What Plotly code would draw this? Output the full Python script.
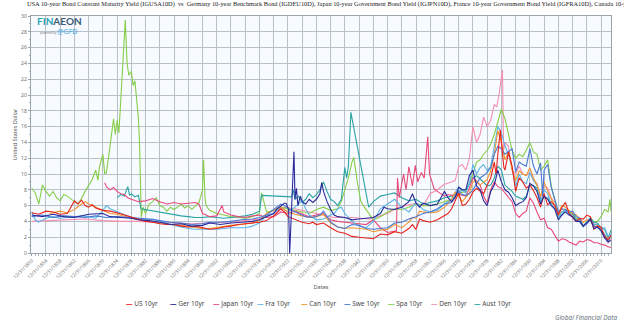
import plotly.graph_objects as go

# ---------------- data ----------------
tick_years = list(range(1850, 2011, 4))
tick_labels = [f"12/31/{y}" for y in tick_years]

us_years = [1850, 1852, 1854, 1856, 1858, 1860, 1861, 1862, 1863, 1864, 1865, 1866, 1867, 1868, 1870, 1872, 1874, 1876, 1878, 1880,
            1882, 1884, 1886, 1888, 1890, 1892, 1894, 1896, 1898, 1900, 1902, 1904, 1906, 1908, 1910, 1912, 1914, 1916, 1918, 1920,
            1921, 1922, 1924, 1926, 1928, 1929, 1930, 1932, 1934, 1936, 1938, 1940, 1942, 1944, 1946, 1948, 1950, 1952, 1954, 1956,
            1957, 1958, 1959, 1960, 1962, 1964, 1966, 1967, 1968, 1969, 1970, 1971, 1972, 1973, 1974, 1975, 1976, 1977, 1978, 1979,
            1980, 1980.5, 1981, 1981.7, 1982, 1982.7, 1983, 1984, 1985, 1986, 1987, 1988, 1989, 1990, 1991, 1992, 1993, 1994, 1995,
            1996, 1997, 1998, 1999, 2000, 2001, 2002, 2003, 2004, 2005, 2006, 2007, 2008, 2009, 2010, 2011, 2012, 2012.8]
us_yield = [5.1, 4.9, 5.3, 5.2, 4.9, 5.0, 5.8, 6.6, 6.2, 6.7, 6.0, 5.8, 6.1, 5.7, 5.4, 5.3, 5.1, 4.8, 4.6, 4.2,
            4.0, 3.9, 3.7, 3.6, 3.6, 3.4, 3.3, 3.4, 3.2, 3.0, 3.1, 3.3, 3.4, 3.6, 3.7, 3.8, 3.9, 4.1, 4.7, 5.6,
            5.2, 4.6, 4.3, 3.9, 3.7, 3.9, 3.6, 3.8, 3.2, 2.7, 2.5, 2.1, 2.0, 1.9, 1.8, 2.4, 2.3, 2.7, 2.5, 3.1,
            3.6, 3.0, 4.3, 4.1, 3.9, 4.2, 4.8, 5.0, 5.6, 6.7, 7.6, 6.0, 6.2, 6.8, 7.7, 8.2, 7.8, 7.5, 8.6, 9.5,
            11.5, 10.0, 12.5, 15.6, 14.0, 10.8, 10.5, 12.8, 11.0, 7.8, 9.5, 9.0, 8.2, 8.6, 7.9, 7.0, 5.8, 7.5, 6.1,
            6.5, 6.0, 4.8, 5.8, 6.4, 5.0, 4.5, 4.0, 4.4, 4.3, 4.8, 4.6, 3.0, 3.4, 3.3, 2.0, 1.7, 2.2]

ger_years = [1850, 1853, 1856, 1859, 1862, 1866, 1870, 1872, 1875, 1878, 1880, 1883, 1886, 1889, 1892, 1895, 1898, 1900, 1903, 1906,
             1909, 1912, 1914, 1916, 1918, 1919, 1920, 1921, 1921.5, 1922.2, 1922.5, 1922.8, 1923.2, 1923.7, 1924, 1924.4, 1924.8,
             1925.5, 1926, 1927, 1928, 1929, 1930, 1931, 1931.5, 1932, 1933, 1934, 1935, 1936, 1938, 1940, 1942, 1944, 1946, 1948,
             1949, 1950, 1952, 1954, 1956, 1957, 1958, 1959, 1960, 1962, 1964, 1965, 1966, 1967, 1968, 1969, 1970, 1971, 1972, 1973,
             1974, 1975, 1976, 1977, 1978, 1979, 1980, 1981, 1982, 1983, 1984, 1985, 1986, 1987, 1988, 1989, 1990, 1991, 1992, 1993,
             1994, 1995, 1996, 1997, 1998, 1999, 2000, 2001, 2002, 2003, 2004, 2005, 2006, 2007, 2008, 2009, 2010, 2011, 2012, 2012.8]
ger_yield = [4.8, 4.6, 4.9, 4.6, 4.5, 4.9, 5.0, 4.6, 4.5, 4.4, 4.2, 4.1, 3.9, 3.6, 3.7, 3.4, 3.5, 3.8, 3.6, 3.8,
             3.9, 4.0, 4.2, 4.6, 5.0, 5.6, 6.0, 6.3, 6.3, 5.5, 0.0, 3.0, 6.0, 12.8, 6.8, 8.2, 6.0,
             7.2, 6.5, 6.2, 6.8, 6.4, 6.8, 7.5, 8.9, 7.8, 6.5, 5.5, 4.8, 4.6, 4.5, 4.2, 4.3, 4.4, 4.5, 5.0,
             5.8, 5.6, 5.5, 5.8, 6.5, 7.5, 6.3, 5.8, 6.3, 6.0, 6.2, 7.0, 7.8, 7.0, 6.5, 7.0, 8.3, 8.0, 8.0, 9.8,
             10.5, 8.5, 8.0, 6.6, 6.0, 7.8, 8.6, 10.5, 9.0, 8.0, 7.7, 7.0, 6.0, 6.3, 6.5, 7.0, 8.8, 8.5, 7.8, 6.2,
             7.2, 6.8, 6.0, 5.6, 4.2, 4.8, 5.2, 4.8, 4.6, 4.0, 4.0, 3.4, 3.9, 4.3, 3.1, 3.3, 2.8, 1.9, 1.4, 1.6]

jpn_years = [1870.5, 1871, 1872, 1873, 1874, 1875, 1876, 1877, 1878, 1880, 1882, 1884, 1886, 1888, 1890, 1892, 1894, 1896, 1897, 1898,
             1899, 1900, 1902, 1903.5, 1904, 1906, 1908, 1910, 1912, 1914, 1916, 1918, 1920, 1922, 1924, 1926, 1928, 1930, 1932, 1934,
             1936, 1938, 1940, 1942, 1944, 1946, 1948, 1950, 1952.5, 1952.8, 1953.3, 1954.5, 1955.2, 1956, 1957, 1957.8, 1958.5, 1959.5,
             1960.3, 1961.3, 1961.8, 1962.5, 1963, 1964, 1965, 1966, 1967, 1968, 1970, 1972, 1973, 1974, 1975, 1976, 1977, 1978,
             1979, 1980, 1981, 1982, 1983, 1984, 1985, 1986, 1987, 1988, 1989, 1990, 1991, 1992, 1993, 1994, 1995, 1996, 1997,
             1998, 1999, 2000, 2001, 2002, 2003, 2004, 2005, 2006, 2007, 2008, 2009, 2010, 2011, 2012, 2012.8]
jpn_yield = [8.9, 8.4, 8.0, 8.3, 7.8, 7.5, 7.4, 7.0, 6.8, 6.5, 6.6, 6.9, 6.5, 6.2, 6.4, 6.2, 6.3, 6.4, 6.2, 5.0,
             4.8, 4.6, 4.7, 6.0, 5.2, 4.8, 4.6, 4.5, 4.7, 4.8, 4.5, 4.6, 5.2, 5.0, 5.3, 5.0, 4.6, 4.8, 5.0, 4.2,
             4.0, 3.9, 3.8, 3.7, 3.6, 4.2, 3.2, 2.6, 2.8, 9.5, 7.0, 10.0, 8.0, 10.9, 8.5, 11.1, 9.0, 10.2,
             9.5, 14.7, 10.0, 9.0, 8.2, 7.8, 7.5, 7.2, 7.4, 7.3, 7.4, 7.2, 8.2, 9.5, 9.0, 8.6, 7.2, 6.3,
             8.0, 9.0, 8.4, 8.2, 7.6, 7.0, 6.5, 5.0, 4.5, 5.0, 5.3, 7.0, 6.3, 5.2, 4.2, 4.4, 3.2, 3.0, 2.3,
             1.5, 1.8, 1.7, 1.4, 1.2, 1.0, 1.5, 1.4, 1.7, 1.6, 1.3, 1.3, 1.1, 1.0, 0.8, 0.7]

fra_years = [1850, 1851, 1852, 1854, 1856, 1858, 1860, 1862, 1864, 1866, 1868, 1870, 1871, 1872, 1874, 1876, 1878, 1880, 1882, 1884,
             1886, 1888, 1890, 1892, 1894, 1896, 1898, 1900, 1902, 1904, 1906, 1908, 1910, 1912, 1914, 1916, 1918, 1920, 1922, 1924,
             1926, 1927, 1928, 1930, 1932, 1934, 1935, 1936, 1937, 1938, 1940, 1942, 1944, 1946, 1948, 1950, 1952, 1954, 1956, 1958,
             1960, 1962, 1964, 1966, 1968, 1970, 1971, 1972, 1973, 1974, 1975, 1976, 1977, 1978, 1979, 1980, 1981, 1982, 1983, 1984,
             1985, 1986, 1987, 1988, 1989, 1990, 1991, 1992, 1993, 1994, 1995, 1996, 1997, 1998, 1999, 2000, 2001, 2002, 2003, 2004,
             2005, 2006, 2007, 2008, 2009, 2010, 2011, 2012, 2012.8]
fra_yield = [5.2, 4.2, 3.9, 4.4, 4.6, 4.4, 4.5, 4.6, 4.7, 4.6, 4.4, 5.4, 6.0, 5.6, 5.2, 4.8, 4.5, 4.2, 4.2, 4.3,
             4.0, 3.8, 3.5, 3.3, 3.1, 3.0, 3.0, 3.0, 3.0, 3.1, 3.2, 3.2, 3.2, 3.4, 3.8, 4.8, 5.0, 5.8, 5.2, 5.8,
             6.6, 5.6, 4.8, 4.2, 4.3, 4.8, 5.0, 5.6, 5.8, 5.0, 4.0, 3.4, 3.2, 4.0, 5.6, 6.2, 6.8, 5.8, 5.2, 6.4,
             5.5, 5.2, 5.4, 6.2, 6.8, 8.4, 8.0, 7.6, 8.8, 11.2, 10.0, 10.8, 11.2, 10.4, 11.0, 13.5, 16.0, 15.2, 13.6, 12.4,
             10.8, 8.4, 10.0, 9.0, 8.8, 10.2, 9.2, 8.6, 6.4, 8.0, 7.5, 6.2, 5.5, 4.4, 5.2, 5.4, 5.0, 4.6, 4.2, 4.0,
             3.4, 3.9, 4.4, 3.6, 3.6, 3.2, 3.2, 2.1, 2.4]

can_years = [1855, 1858, 1860, 1862, 1864, 1865, 1866, 1868, 1870, 1872, 1874, 1876, 1878, 1880, 1883, 1886, 1889, 1892, 1895, 1898,
             1900, 1903, 1906, 1909, 1912, 1914, 1916, 1918, 1920, 1922, 1924, 1926, 1928, 1930, 1932, 1934, 1936, 1938, 1940, 1942,
             1944, 1946, 1948, 1950, 1952, 1954, 1956, 1957, 1958, 1959, 1960, 1962, 1964, 1966, 1968, 1969, 1970, 1971, 1972, 1973,
             1974, 1975, 1976, 1977, 1978, 1979, 1980, 1981, 1982, 1983, 1984, 1985, 1986, 1987, 1988, 1989, 1990, 1991, 1992, 1993,
             1994, 1995, 1996, 1997, 1998, 1999, 2000, 2001, 2002, 2003, 2004, 2005, 2006, 2007, 2008, 2009, 2010, 2011, 2012, 2012.8]
can_yield = [5.0, 5.3, 5.1, 5.5, 6.2, 6.5, 6.2, 5.8, 5.3, 5.0, 4.9, 4.6, 4.4, 4.2, 4.0, 3.8, 3.6, 3.5, 3.3, 3.1,
             3.1, 3.3, 3.5, 3.6, 3.8, 4.1, 5.0, 5.4, 5.8, 5.2, 4.9, 4.7, 4.5, 4.6, 4.9, 3.8, 3.3, 3.1, 3.2, 3.1,
             3.0, 2.7, 2.9, 3.0, 3.6, 3.2, 3.9, 4.5, 4.4, 5.3, 5.2, 5.1, 5.2, 5.8, 6.8, 7.7, 7.2, 6.5, 7.1, 7.6,
             9.0, 9.2, 8.6, 8.9, 9.3, 10.4, 12.5, 15.5, 14.0, 11.8, 12.8, 10.5, 9.2, 10.4, 10.0, 9.8, 10.8, 9.5, 8.6, 7.2,
             9.0, 7.8, 6.8, 5.8, 5.0, 6.0, 5.8, 5.4, 5.0, 4.8, 4.4, 3.9, 4.2, 4.1, 3.3, 3.5, 3.1, 2.3, 1.8, 2.2]

swe_years = [1850, 1853, 1856, 1859, 1862, 1865, 1868, 1871, 1874, 1877, 1880, 1883, 1886, 1889, 1892, 1895, 1898, 1900, 1903, 1906,
             1909, 1912, 1914, 1916, 1918, 1920, 1921, 1923, 1925, 1927, 1929, 1931, 1932, 1934, 1936, 1938, 1940, 1942, 1944, 1946,
             1948, 1950, 1952, 1954, 1956, 1958, 1960, 1962, 1964, 1966, 1968, 1969, 1970, 1971, 1972, 1973, 1974, 1975, 1976, 1977,
             1978, 1979, 1980, 1981, 1982, 1983, 1984, 1985, 1986, 1987, 1988, 1989, 1990, 1991, 1992, 1993, 1993.6, 1994, 1995, 1996,
             1997, 1998, 1999, 2000, 2001, 2002, 2003, 2004, 2005, 2006, 2007, 2008, 2009, 2010, 2011, 2012, 2012.8]
swe_yield = [4.6, 4.8, 4.5, 4.7, 4.6, 4.5, 4.7, 4.5, 4.6, 4.5, 4.4, 4.3, 4.1, 3.9, 3.8, 3.6, 3.7, 3.9, 3.9, 4.0,
             4.2, 4.3, 4.5, 4.8, 5.5, 6.2, 6.0, 5.4, 5.0, 4.6, 4.5, 4.8, 5.3, 3.9, 3.3, 3.1, 3.6, 3.5, 3.1, 3.0,
             3.1, 3.2, 3.8, 3.9, 4.3, 4.6, 5.0, 5.2, 5.6, 6.2, 6.4, 7.2, 7.8, 7.4, 7.3, 7.5, 8.0, 8.8, 9.5, 9.8,
             10.2, 10.8, 12.5, 13.5, 13.2, 12.5, 12.8, 13.2, 10.3, 11.5, 11.2, 11.0, 13.2, 11.0, 10.0, 11.4, 7.2, 10.5, 11.2, 8.3,
             6.8, 5.2, 5.6, 5.5, 5.2, 5.3, 4.6, 4.4, 3.4, 3.7, 4.2, 3.5, 3.2, 3.0, 2.3, 1.5, 2.2]

spa_years = [1850, 1851, 1852, 1853, 1854, 1855, 1856, 1857, 1858, 1859, 1860, 1861, 1862, 1863, 1864, 1865, 1866, 1867, 1868, 1868.6,
             1869, 1870, 1870.5, 1871, 1872, 1873, 1873.5, 1874, 1874.5, 1875, 1875.8, 1876.3, 1876.8, 1877.3, 1878, 1878.5, 1879,
             1879.5, 1880, 1880.3, 1880.8, 1881.3, 1882, 1883, 1884, 1885, 1886, 1887, 1888, 1889, 1890, 1891, 1892, 1893, 1894,
             1895, 1896, 1897, 1898, 1898.3, 1898.7, 1899, 1900, 1902, 1904, 1906, 1908, 1910, 1912, 1914, 1914.6, 1916, 1918, 1920,
             1922, 1924, 1926, 1928, 1930, 1932, 1934, 1936, 1937, 1938, 1939, 1940, 1940.5, 1941.5, 1942.5, 1943.5, 1946, 1948,
             1950, 1952, 1954, 1956, 1958, 1960, 1962, 1964, 1966, 1968, 1970, 1972, 1974, 1975, 1976, 1977, 1978, 1979, 1980,
             1981, 1982, 1983, 1984, 1985, 1986, 1987, 1988, 1989, 1990, 1991, 1992, 1993, 1994, 1995, 1996, 1997, 1998, 1999,
             2000, 2001, 2002, 2003, 2004, 2005, 2006, 2007, 2008, 2009, 2010, 2011, 2012, 2012.5, 2012.8]
spa_yield = [8.2, 7.6, 6.2, 8.6, 7.8, 7.2, 7.8, 7.0, 6.6, 7.4, 7.2, 6.8, 6.5, 6.2, 6.9, 7.8, 8.6, 9.3, 10.5, 9.2,
             10.8, 12.5, 10.0, 10.2, 13.5, 17.0, 15.0, 16.8, 15.2, 19.5, 25.0, 29.5, 24.0, 22.5, 23.0, 21.2, 21.8,
             19.8, 17.0, 14.0, 4.5, 5.8, 5.0, 6.2, 6.5, 7.0, 6.0, 5.8, 5.3, 5.8, 5.5, 5.8, 6.2, 5.7, 6.0,
             5.5, 5.9, 6.4, 8.0, 11.8, 7.0, 6.0, 5.4, 5.0, 4.8, 4.6, 4.5, 4.4, 4.6, 5.0, 7.6, 5.2, 5.4, 5.8,
             5.6, 5.4, 5.2, 5.0, 5.5, 5.8, 5.4, 5.6, 6.5, 8.0, 9.5, 11.5, 12.1, 9.0, 6.5, 5.8, 4.2, 4.6,
             5.2, 5.6, 5.5, 5.8, 6.2, 6.0, 6.0, 6.2, 6.5, 6.8, 7.5, 7.8, 10.0, 11.5, 11.8, 12.5, 13.0, 13.8, 15.0,
             16.5, 18.2, 17.0, 15.0, 13.0, 12.0, 12.5, 12.2, 13.0, 14.0, 12.8, 12.5, 10.5, 11.0, 11.8, 8.5, 6.5, 4.8, 5.2,
             5.5, 5.2, 5.0, 4.4, 4.2, 3.4, 3.9, 4.5, 3.9, 4.0, 4.6, 5.5, 5.2, 6.8, 5.3]

den_years = [1850, 1855, 1860, 1865, 1870, 1875, 1880, 1885, 1890, 1895, 1900, 1905, 1910, 1914, 1917, 1920, 1921, 1925, 1930, 1935,
             1940, 1945, 1950, 1953, 1955, 1958, 1960, 1962, 1964, 1966, 1968, 1969, 1970, 1971, 1972, 1973, 1974, 1975, 1976, 1977,
             1978, 1979, 1980, 1980.7, 1981.3, 1982.3, 1982.6, 1983, 1984, 1985, 1986, 1987, 1988, 1989, 1990, 1991, 1992, 1993,
             1994, 1995, 1996, 1997, 1998, 1999, 2000, 2001, 2002, 2003, 2004, 2005, 2006, 2007, 2008, 2009, 2010, 2011, 2012, 2012.8]
den_yield = [4.0, 4.1, 4.2, 4.3, 4.1, 4.0, 4.0, 3.9, 3.8, 3.7, 3.8, 3.9, 4.1, 4.3, 4.8, 5.5, 5.8, 5.5, 5.0, 4.5,
             4.5, 4.3, 5.0, 5.8, 6.0, 6.3, 6.0, 7.5, 8.0, 8.7, 9.0, 9.2, 10.9, 11.2, 10.5, 12.0, 16.0, 14.0, 15.0, 17.2,
             16.0, 16.8, 18.8, 18.5, 20.0, 23.2, 13.0, 14.0, 13.5, 10.5, 10.0, 11.0, 10.0, 9.8, 10.2, 9.2, 8.8, 7.0,
             8.5, 8.2, 7.0, 6.3, 5.0, 5.2, 5.5, 5.0, 4.8, 4.3, 4.2, 3.4, 3.8, 4.3, 3.7, 3.6, 2.9, 2.0, 1.3, 1.8]

aut_years = [1874, 1875, 1876, 1877, 1877.5, 1878, 1879, 1880, 1880.7, 1882, 1884, 1886, 1888, 1890, 1892, 1894, 1896, 1898, 1900, 1902,
             1904, 1906, 1908, 1910, 1912, 1914, 1914.6, 1923, 1923.5, 1924, 1925, 1926, 1927, 1928, 1929, 1930, 1931, 1932, 1933,
             1934, 1935, 1936, 1937, 1937.5, 1938, 1938.5, 1939, 1939.7, 1944.7, 1946, 1948, 1950, 1952, 1954, 1956, 1958, 1960,
             1962, 1964, 1966, 1968, 1970, 1972, 1974, 1975, 1976, 1977, 1978, 1979, 1980, 1981, 1982, 1983, 1984, 1985, 1986, 1987,
             1988, 1989, 1990, 1991, 1992, 1993, 1994, 1995, 1996, 1997, 1998, 1999, 2000, 2001, 2002, 2003, 2004, 2005, 2006, 2007,
             2008, 2009, 2010, 2011, 2012, 2012.8]
aut_yield = [7.0, 7.4, 7.2, 8.4, 7.3, 7.5, 7.1, 7.3, 5.6, 5.5, 5.3, 5.1, 5.0, 4.8, 4.7, 4.6, 4.5, 4.5, 4.6, 4.5,
             4.4, 4.5, 4.6, 4.7, 4.9, 5.3, 7.3, 7.1, 8.0, 6.8, 7.2, 6.4, 6.8, 7.5, 7.0, 7.4, 8.0, 9.0, 7.8,
             6.8, 6.5, 6.0, 6.8, 9.0, 10.8, 9.5, 11.0, 17.8, 5.8, 6.5, 7.2, 7.4, 7.6, 7.0, 6.6, 6.8, 6.2,
             6.4, 6.6, 7.0, 7.2, 7.8, 8.0, 9.5, 9.8, 9.4, 9.0, 8.5, 8.6, 9.5, 11.0, 10.5, 8.6, 8.2, 7.8, 7.2, 7.0,
             6.8, 7.2, 8.6, 8.5, 8.2, 6.8, 7.0, 7.0, 6.2, 5.6, 4.6, 4.8, 5.5, 5.0, 4.9, 4.2, 4.0, 3.3, 3.8, 4.4,
             3.9, 3.8, 3.2, 3.0, 1.9, 2.9]

series_names = ["US 10yr", "Ger 10yr", "Japan 10yr", "Fra 10yr", "Can 10yr", "Swe 10yr", "Spa 10yr", "Den 10yr", "Aust 10yr"]
series_x = [us_years, ger_years, jpn_years, fra_years, can_years, swe_years, spa_years, den_years, aut_years]
series_y = [us_yield, ger_yield, jpn_yield, fra_yield, can_yield, swe_yield, spa_yield, den_yield, aut_yield]
series_colors = ["#e8231e", "#2a2a9a", "#ea4a78", "#5bb4e6", "#f0952e", "#4a78d2", "#86cd48", "#f58fb0", "#2aa3a3"]

# ---------------- figure ----------------
fig = go.Figure()
draw_order = [7, 6, 8, 2, 3, 4, 5, 0, 1]
for i in draw_order:
    fig.add_trace(go.Scatter(x=series_x[i], y=series_y[i], mode="lines", name=series_names[i],
                             line=dict(color=series_colors[i], width=1.1), showlegend=False))

W, H = 624, 327
ml, mr, mt, mb = 27, 12, 16, 74
pw = W - ml - mr
ph = H - mt - mb

def px_to_paper_x(px):
    return (px - ml) / pw

def px_to_paper_y(py):
    return 1 - (py - mt) / ph

annotations = []
# compact legend built from text annotations (like the reference)
leg_x = [121, 165, 209, 253, 297, 341, 385, 428, 472]
leg_y = 303
for k, (nm, col) in enumerate(zip(series_names, series_colors)):
    annotations.append(dict(
        x=px_to_paper_x(leg_x[k]), xref="paper", xanchor="left",
        y=px_to_paper_y(leg_y), yref="paper", yanchor="middle",
        text=f"<span style='color:{col}'><b>—</b></span> {nm}", showarrow=False,
        font=dict(family="Noto Sans", size=6.5, color="#4a4a4a")))

# logo
annotations.append(dict(x=px_to_paper_x(31), xref="paper", xanchor="left", y=px_to_paper_y(21), yref="paper",
                        yanchor="middle", showarrow=False,
                        text="<b><span style='color:#2aa3b5'>FIN</span><span style='color:#3d5b73'>AEON</span></b>",
                        font=dict(family="Lato", size=10, color="#2aa3b5")))
annotations.append(dict(x=px_to_paper_x(34), xref="paper", xanchor="left", y=px_to_paper_y(32), yref="paper",
                        yanchor="middle", showarrow=False,
                        text="<span style='font-size:3px;color:#777'>powered by </span><span style='color:#3aa6e0'>@GFD</span>",
                        font=dict(family="Noto Sans", size=7, color="#3aa6e0")))
# source
annotations.append(dict(x=px_to_paper_x(620), xref="paper", xanchor="right", y=px_to_paper_y(317), yref="paper",
                        yanchor="middle", showarrow=False, text="<i>Global Financial Data</i>",
                        font=dict(family="Noto Sans", size=6.5, color="#6a7480")))

fig.update_layout(
    width=W, height=H,
    margin=dict(l=ml, r=mr, t=mt, b=mb),
    paper_bgcolor="white",
    plot_bgcolor="#f7fbff",
    title=dict(text="USA 10-year Bond Constant Maturity Yield (IGUSA10D)  vs  Germany 10-year Benchmark Bond (IGDEU10D), "
                    "Japan 10-year Government Bond Yield (IGJPN10D), France 10-year Government Bond Yield (IGFRA10D), "
                    "Canada 10-year Government Bond Yield (IGCAN10D)",
               x=ml / W, xanchor="left", xref="container", y=0.996, yanchor="top", yref="container",
               font=dict(family="Liberation Serif", size=6.35, color="#222222")),
    xaxis=dict(range=[1849.8, 2012.8], tickmode="array", tickvals=tick_years, ticktext=tick_labels,
               tickangle=-45, tickfont=dict(family="Noto Sans", size=4.8, color="#707070"),
               showgrid=True, gridcolor="#b8c0c8", gridwidth=0.7, zeroline=False,
               showline=True, linecolor="#9aa2aa", linewidth=1, mirror=True,
               ticks="outside", ticklen=2, tickcolor="#9aa2aa",
               minor=dict(tickmode="linear", tick0=1850, dtick=1, ticks="outside", ticklen=1.5, tickcolor="#b0b0b0", showgrid=False),
               title=dict(text="Dates", font=dict(family="Noto Sans", size=5.5, color="#555555"), standoff=6)),
    yaxis=dict(range=[0, 30], dtick=2, tick0=0, tickfont=dict(family="Noto Sans", size=5.2, color="#707070"),
               showgrid=True, gridcolor="#b8c0c8", gridwidth=0.7, zeroline=False,
               showline=True, linecolor="#9aa2aa", linewidth=1, mirror=True,
               ticks="outside", ticklen=2, tickcolor="#9aa2aa",
               minor=dict(tickmode="linear", tick0=0, dtick=1, ticks="outside", ticklen=1.5, tickcolor="#b0b0b0", showgrid=False),
               title=dict(text="United States Dollar", font=dict(family="Noto Sans", size=5.5, color="#555555"), standoff=3)),
    annotations=annotations,
    showlegend=False,
)

fig.write_html("out.html")
